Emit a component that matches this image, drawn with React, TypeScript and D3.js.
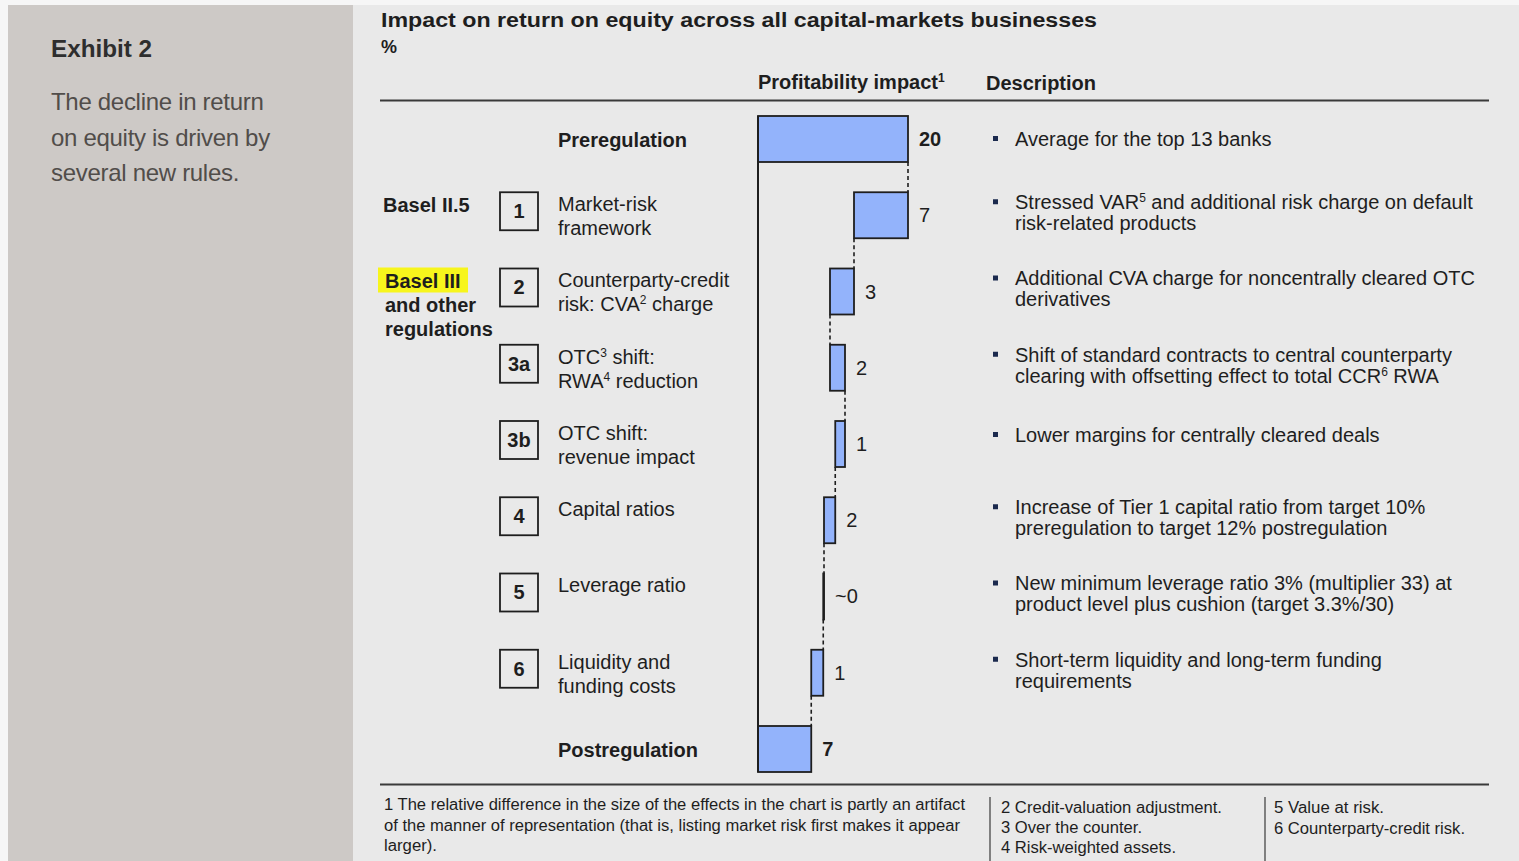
import React from "react";
import * as d3 from "d3";

// ---------- DATA ----------
const rowLabels: string[][] = [
  ["Preregulation"],
  ["Market-risk", "framework"],
  ["Counterparty-credit", "risk: CVA^2 charge"],
  ["OTC^3 shift:", "RWA^4 reduction"],
  ["OTC shift:", "revenue impact"],
  ["Capital ratios"],
  ["Leverage ratio"],
  ["Liquidity and", "funding costs"],
  ["Postregulation"],
];
const boxLabels = ["", "1", "2", "3a", "3b", "4", "5", "6", ""];
const kinds = ["total", "delta", "delta", "delta", "delta", "delta", "delta", "delta", "total"];
const values = [20, -7.2, -3.2, 2, -1.3, -1.5, -0.1, -1.6, 7.1];
const valueLabels = ["20", "7", "3", "2", "1", "2", "~0", "1", "7"];
const descriptions: string[][] = [
  ["Average for the top 13 banks"],
  ["Stressed VAR^5 and additional risk charge on default", "risk-related products"],
  ["Additional CVA charge for noncentrally cleared OTC", "derivatives"],
  ["Shift of standard contracts to central counterparty", "clearing with offsetting effect to total CCR^6 RWA"],
  ["Lower margins for centrally cleared deals"],
  ["Increase of Tier 1 capital ratio from target 10%", "preregulation to target 12% postregulation"],
  ["New minimum leverage ratio 3% (multiplier 33) at", "product level plus cushion (target 3.3%/30)"],
  ["Short-term liquidity and long-term funding", "requirements"],
  [],
];
const groupBasel25 = ["Basel II.5"];
const groupBasel3 = ["Basel III", "and other", "regulations"];
const titleText = "Impact on return on equity across all capital-markets businesses";
const unitText = "%";
const headerImpact = "Profitability impact";
const headerDesc = "Description";
const exhibitTitle = "Exhibit 2";
const exhibitText = ["The decline in return", "on equity is driven by", "several new rules."];
const foot1 = [
  "1 The relative difference in the size of the effects in the chart is partly an artifact",
  "of the manner of representation (that is, listing market risk first makes it appear",
  "larger).",
];
const foot1Len = [581, 576, 53];
const foot2 = ["2 Credit-valuation adjustment.", "3 Over the counter.", "4 Risk-weighted assets."];
const foot2Len = [221, 141, 175];
const foot3 = ["5 Value at risk.", "6 Counterparty-credit risk."];
const foot3Len = [110, 191];

// ---------- STYLE ----------
const FONT = "'Liberation Sans', Arial, sans-serif";
const BAR_FILL = "#93b3fb";
const INK = "#1e1e1e";

function rich(text: string, supSize = 12) {
  const parts = text.split(/\^(\d)/);
  const out: React.ReactNode[] = [];
  parts.forEach((p, i) => {
    if (i % 2 === 0) {
      if (p) out.push(<tspan key={i}>{p}</tspan>);
    } else {
      out.push(
        <tspan key={i} fontSize={supSize} baselineShift="super">
          {p}
        </tspan>
      );
    }
  });
  return out;
}

export default function App() {
  const W = 1519;
  const H = 861;
  const x = d3.scaleLinear().domain([0, 20]).range([758, 908]);
  const y = d3
    .scaleBand<number>()
    .domain(d3.range(values.length))
    .range([116, 772])
    .paddingInner(0.3967)
    .paddingOuter(0);
  const bw = y.bandwidth();

  let running = 0;
  const bars = values.map((v, i) => {
    let start: number, end: number;
    if (kinds[i] === "total") {
      start = 0;
      end = v;
    } else {
      start = running;
      end = running + v;
    }
    running = end;
    return { i, start, end, lo: Math.min(start, end), hi: Math.max(start, end) };
  });

  return (
    <svg
      width={W}
      height={H}
      style={{ position: "absolute", left: 0, top: 0, display: "block" }}
      fontFamily={FONT}
    >
      <rect x={0} y={0} width={W} height={H} fill="#f6f6f6" />
      <rect x={8} y={5} width={345} height={H - 5} fill="#cdc9c6" />
      <rect x={353} y={5} width={W - 353} height={H - 5} fill="#e9e9e9" />

      {/* Left panel */}
      <text x={51} y={57} fontSize={24} fontWeight="bold" fill="#2e2e2e" textLength={101} lengthAdjust="spacingAndGlyphs">
        {exhibitTitle}
      </text>
      {exhibitText.map((t, k) => (
        <text key={k} x={51} y={110 + k * 35.5} fontSize={24} fill="#514d4a" letterSpacing={-0.3}>
          {t}
        </text>
      ))}

      {/* Title */}
      <text x={381} y={27} fontSize={20} fontWeight="bold" fill={INK} textLength={716} lengthAdjust="spacingAndGlyphs">
        {titleText}
      </text>
      <text x={381} y={53} fontSize={18} fontWeight="bold" fill={INK}>
        {unitText}
      </text>
      <text x={758} y={89} fontSize={20} fontWeight="bold" fill={INK}>
        {headerImpact}
        <tspan fontSize={12} baselineShift="super">1</tspan>
      </text>
      <text x={986} y={90} fontSize={20} fontWeight="bold" fill={INK}>
        {headerDesc}
      </text>
      <line x1={380} x2={1489} y1={100.5} y2={100.5} stroke="#3a3a3a" strokeWidth={2} />

      {/* Group labels */}
      <text x={383} y={(y(1) as number) + 20} fontSize={20} fontWeight="bold" fill={INK}>
        {groupBasel25[0]}
      </text>
      <rect x={378} y={(y(2) as number) - 1} width={90} height={25} fill="#f7f51c" />
      {groupBasel3.map((t, k) => (
        <text key={k} x={385} y={(y(2) as number) + 20 + k * 24} fontSize={20} fontWeight="bold" fill={INK}>
          {t}
        </text>
      ))}

      {/* Rows */}
      {bars.map((b) => {
        const top = y(b.i) as number;
        const isTotal = kinds[b.i] === "total";
        const lines = rowLabels[b.i];
        const descTop = isTotal ? top + bw / 2 : top + (descriptions[b.i].length === 1 ? 14 : 10);
        return (
          <g key={b.i}>
            {boxLabels[b.i] && (
              <g>
                <rect x={500} y={top} width={38} height={38} fill="none" stroke={INK} strokeWidth={1.8} />
                <text x={519} y={top + 26} fontSize={20} fontWeight="bold" textAnchor="middle" fill={INK}>
                  {boxLabels[b.i]}
                </text>
              </g>
            )}
            {isTotal ? (
              <text x={558} y={top + bw / 2 + 8} fontSize={20} fontWeight="bold" fill={INK}>
                {lines[0]}
              </text>
            ) : (
              lines.map((t, k) => (
                <text key={k} x={558} y={top + 19 + k * 24} fontSize={20} fill={INK}>
                  {rich(t)}
                </text>
              ))
            )}
            <rect
              x={x(b.lo)}
              y={top}
              width={Math.max(x(b.hi) - x(b.lo), 0.8)}
              height={bw}
              fill={BAR_FILL}
              stroke={INK}
              strokeWidth={1.8}
            />
            <text
              x={x(b.hi) + 11}
              y={top + bw / 2 + 7}
              fontSize={20}
              fontWeight={isTotal ? "bold" : "normal"}
              fill={INK}
            >
              {valueLabels[b.i]}
            </text>
            {b.i < bars.length - 1 && (
              <line
                x1={x(b.end)}
                x2={x(b.end)}
                y1={top + bw}
                y2={y(b.i + 1) as number}
                stroke={INK}
                strokeWidth={1.6}
                strokeDasharray="4,3"
              />
            )}
            {descriptions[b.i].length > 0 && (
              <g>
                <rect x={993} y={descTop - 3} width={5} height={5} fill="#1b2a4e" />
                {descriptions[b.i].map((t, k) => (
                  <text key={k} x={1015} y={descTop + 7 + k * 21} fontSize={20} fill={INK}>
                    {rich(t)}
                  </text>
                ))}
              </g>
            )}
          </g>
        );
      })}

      {/* Baseline */}
      <line x1={x(0)} x2={x(0)} y1={y(0) as number} y2={(y(values.length - 1) as number) + bw} stroke={INK} strokeWidth={2} />

      {/* Footer */}
      <line x1={380} x2={1489} y1={784.5} y2={784.5} stroke="#3a3a3a" strokeWidth={2} />
      <line x1={990} x2={990} y1={797} y2={861} stroke="#3a3a3a" strokeWidth={1.2} />
      <line x1={1265} x2={1265} y1={797} y2={861} stroke="#3a3a3a" strokeWidth={1.2} />
      {foot1.map((t, k) => (
        <text key={k} x={384} y={810 + k * 20.5} fontSize={16} fill={INK} textLength={foot1Len[k]} lengthAdjust="spacingAndGlyphs">
          {t}
        </text>
      ))}
      {foot2.map((t, k) => (
        <text key={k} x={1001} y={813 + k * 20} fontSize={16} fill={INK} textLength={foot2Len[k]} lengthAdjust="spacingAndGlyphs">
          {t}
        </text>
      ))}
      {foot3.map((t, k) => (
        <text key={k} x={1274} y={813 + k * 20.5} fontSize={16} fill={INK} textLength={foot3Len[k]} lengthAdjust="spacingAndGlyphs">
          {t}
        </text>
      ))}
    </svg>
  );
}
